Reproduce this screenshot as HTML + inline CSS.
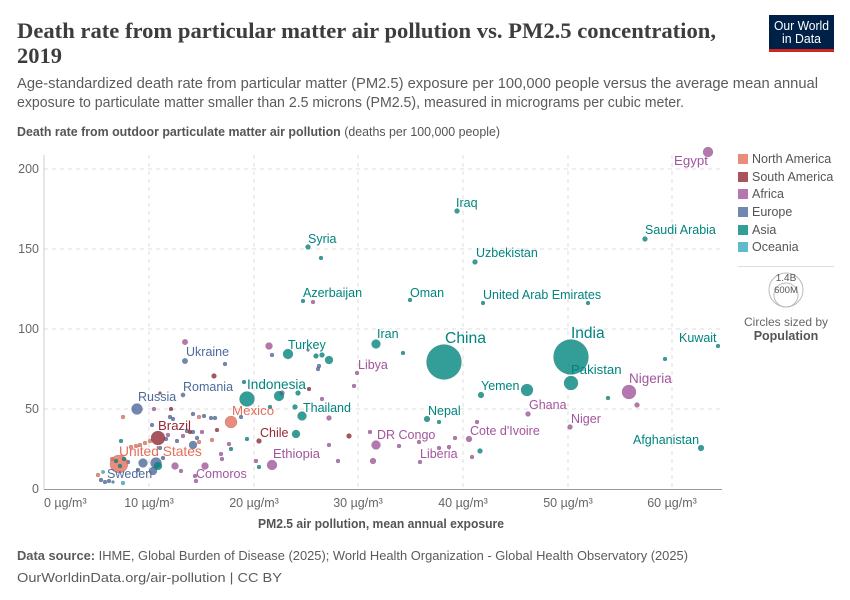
<!DOCTYPE html>
<html><head><meta charset="utf-8">
<style>
html,body{margin:0;padding:0;background:#fff;}
svg{display:block;font-family:"Liberation Sans",sans-serif;}
.g{stroke:#ddd;stroke-width:1;stroke-dasharray:4 4;}
.as{fill:#00847E;}
.af{fill:#A2559C;}
.na{fill:#E56E5A;}
.sa{fill:#932834;}
.eu{fill:#4C6A9C;}
.oc{fill:#38AABA;}
.d circle{fill-opacity:.8;stroke:#555;stroke-opacity:.35;stroke-width:.5;}
.l text{font-size:12.5px;}
.tas{fill:#00847E;}.taf{fill:#A2559C;}.tna{fill:#E56E5A;}.tsa{fill:#932834;}.teu{fill:#4C6A9C;}
.tick{font-size:12.5px;fill:#666;}
</style></head>
<body>
<svg width="850" height="600" viewBox="0 0 850 600" xmlns="http://www.w3.org/2000/svg">
<rect width="850" height="600" fill="#fff"/>
<!-- Header -->
<text x="17" y="38" font-family="'Liberation Serif',serif" font-size="22.5" font-weight="bold" fill="#3d3d3d" textLength="699" lengthAdjust="spacingAndGlyphs">Death rate from particular matter air pollution vs. PM2.5 concentration,</text>
<text x="17" y="63" font-family="'Liberation Serif',serif" font-size="22.5" font-weight="bold" fill="#3d3d3d">2019</text>
<text x="17" y="88" font-size="14.5" fill="#5b5b5b" textLength="801" lengthAdjust="spacingAndGlyphs">Age-standardized death rate from particular matter (PM2.5) exposure per 100,000 people versus the average mean annual</text>
<text x="17" y="107" font-size="14.5" fill="#5b5b5b" textLength="667" lengthAdjust="spacingAndGlyphs">exposure to particulate matter smaller than 2.5 microns (PM2.5), measured in micrograms per cubic meter.</text>
<!-- Logo -->
<rect x="769" y="15" width="65" height="37" fill="#002147"/>
<rect x="769" y="49" width="65" height="3" fill="#ce261e"/>
<text x="801.5" y="30" font-size="12.5" fill="#fff" text-anchor="middle" textLength="55" lengthAdjust="spacingAndGlyphs">Our World</text>
<text x="801.5" y="43" font-size="12.5" fill="#fff" text-anchor="middle" textLength="39" lengthAdjust="spacingAndGlyphs">in Data</text>
<!-- Y axis title -->
<text x="17" y="136" font-size="12.5" fill="#555" textLength="483" lengthAdjust="spacingAndGlyphs"><tspan font-weight="bold">Death rate from outdoor particulate matter air pollution</tspan> (deaths per 100,000 people)</text>

<!-- Grid -->
<g>
<line class="g" x1="44" y1="169" x2="721" y2="169"/>
<line class="g" x1="44" y1="249" x2="721" y2="249"/>
<line class="g" x1="44" y1="329" x2="721" y2="329"/>
<line class="g" x1="44" y1="409" x2="721" y2="409"/>
<line class="g" x1="149" y1="155" x2="149" y2="489"/>
<line class="g" x1="254" y1="155" x2="254" y2="489"/>
<line class="g" x1="358" y1="155" x2="358" y2="489"/>
<line class="g" x1="463" y1="155" x2="463" y2="489"/>
<line class="g" x1="568" y1="155" x2="568" y2="489"/>
<line class="g" x1="672" y1="155" x2="672" y2="489"/>
<line x1="44" y1="155" x2="44" y2="489" stroke="#ccc" stroke-width="1"/>
<line x1="44" y1="489.5" x2="722" y2="489.5" stroke="#999" stroke-width="1"/>
</g>
<!-- Y ticks -->
<g class="tick" text-anchor="end">
<text x="39" y="173">200</text>
<text x="39" y="253">150</text>
<text x="39" y="333">100</text>
<text x="39" y="413">50</text>
<text x="39" y="493">0</text>
</g>
<!-- X ticks -->
<g class="tick" text-anchor="middle">
<text x="44" y="507" text-anchor="start">0 µg/m³</text>
<text x="149" y="507">10 µg/m³</text>
<text x="254" y="507">20 µg/m³</text>
<text x="358" y="507">30 µg/m³</text>
<text x="463" y="507">40 µg/m³</text>
<text x="568" y="507">50 µg/m³</text>
<text x="672" y="507">60 µg/m³</text>
</g>
<text x="381" y="528" font-size="12.5" font-weight="bold" fill="#555" text-anchor="middle" textLength="246" lengthAdjust="spacingAndGlyphs">PM2.5 air pollution, mean annual exposure</text>

<!-- Dots -->
<g class="d">
<!-- Europe -->
<circle class="eu" cx="137" cy="409" r="5.5"/>
<circle class="eu" cx="185" cy="361" r="2.8"/>
<circle class="eu" cx="183" cy="395" r="2.2"/>
<circle class="eu" cx="225" cy="364" r="2"/>
<circle class="eu" cx="272" cy="355" r="2"/>
<circle class="eu" cx="308" cy="350" r="1.5"/>
<circle class="eu" cx="319" cy="366" r="2"/>
<circle class="eu" cx="318" cy="369" r="2"/>
<circle class="eu" cx="152" cy="425" r="2"/>
<circle class="eu" cx="170" cy="417" r="2"/>
<circle class="eu" cx="173" cy="419" r="2"/>
<circle class="eu" cx="193" cy="414" r="2"/>
<circle class="eu" cx="204" cy="416" r="2"/>
<circle class="eu" cx="211" cy="418" r="2"/>
<circle class="eu" cx="215" cy="418" r="2"/>
<circle class="eu" cx="241" cy="417" r="2"/>
<circle class="eu" cx="187" cy="431" r="2"/>
<circle class="eu" cx="193" cy="432" r="2"/>
<circle class="eu" cx="197" cy="438" r="2"/>
<circle class="eu" cx="193" cy="445" r="4"/>
<circle class="eu" cx="166" cy="439" r="2"/>
<circle class="eu" cx="143" cy="463" r="4.5"/>
<circle class="eu" cx="153" cy="471" r="4"/>
<circle class="eu" cx="163" cy="458" r="2"/>
<circle class="eu" cx="128" cy="462" r="2"/>
<circle class="eu" cx="138" cy="470" r="2"/>
<circle class="eu" cx="160" cy="448" r="2"/>
<circle class="eu" cx="101" cy="480" r="2"/>
<circle class="eu" cx="105" cy="482" r="2"/>
<circle class="eu" cx="109" cy="481" r="2"/>
<circle class="eu" cx="113" cy="482" r="1.5"/>
<circle class="eu" cx="177" cy="441" r="2"/>
<!-- North America -->
<circle class="na" cx="119" cy="464" r="9"/>
<circle class="na" cx="231" cy="422" r="6"/>
<circle class="na" cx="123" cy="417" r="2"/>
<circle class="na" cx="199" cy="417" r="2"/>
<circle class="na" cx="212" cy="440" r="2"/>
<circle class="na" cx="199" cy="442" r="2"/>
<circle class="na" cx="140" cy="445" r="2"/>
<circle class="na" cx="145" cy="443" r="2"/>
<circle class="na" cx="150" cy="441" r="2"/>
<circle class="na" cx="136" cy="446" r="2"/>
<circle class="na" cx="131" cy="447" r="2"/>
<circle class="na" cx="98" cy="475" r="2"/>
<circle class="na" cx="112" cy="459" r="2"/>
<!-- South America -->
<circle class="sa" cx="158" cy="438" r="7"/>
<circle class="sa" cx="259" cy="441" r="2.5"/>
<circle class="sa" cx="214" cy="376" r="2.5"/>
<circle class="sa" cx="309" cy="389" r="2"/>
<circle class="sa" cx="349" cy="436" r="2.5"/>
<circle class="sa" cx="171" cy="409" r="2"/>
<circle class="sa" cx="160" cy="393" r="1.5"/>
<circle class="sa" cx="217" cy="430" r="2"/>
<circle class="sa" cx="190" cy="432" r="2"/>
<!-- Africa -->
<circle class="af" cx="708" cy="152" r="5"/>
<circle class="af" cx="629" cy="392" r="7"/>
<circle class="af" cx="272" cy="465" r="5"/>
<circle class="af" cx="376" cy="445" r="4.5"/>
<circle class="af" cx="313" cy="302" r="2"/>
<circle class="af" cx="269" cy="346" r="3.5"/>
<circle class="af" cx="185" cy="342" r="2.8"/>
<circle class="af" cx="357" cy="373" r="2"/>
<circle class="af" cx="354" cy="386" r="2"/>
<circle class="af" cx="282" cy="393" r="2.5"/>
<circle class="af" cx="322" cy="399" r="2"/>
<circle class="af" cx="329" cy="418" r="2.5"/>
<circle class="af" cx="329" cy="445" r="2"/>
<circle class="af" cx="338" cy="461" r="2"/>
<circle class="af" cx="256" cy="461" r="2"/>
<circle class="af" cx="370" cy="432" r="2"/>
<circle class="af" cx="373" cy="461" r="3"/>
<circle class="af" cx="399" cy="446" r="2"/>
<circle class="af" cx="419" cy="442" r="2"/>
<circle class="af" cx="420" cy="462" r="2"/>
<circle class="af" cx="439" cy="448" r="2"/>
<circle class="af" cx="449" cy="447" r="2"/>
<circle class="af" cx="455" cy="438" r="2"/>
<circle class="af" cx="469" cy="439" r="3"/>
<circle class="af" cx="477" cy="422" r="2"/>
<circle class="af" cx="472" cy="457" r="2"/>
<circle class="af" cx="528" cy="414" r="2.5"/>
<circle class="af" cx="570" cy="427" r="2.5"/>
<circle class="af" cx="637" cy="405" r="2.5"/>
<circle class="af" cx="154" cy="409" r="2"/>
<circle class="af" cx="168" cy="435" r="2"/>
<circle class="af" cx="183" cy="436" r="2"/>
<circle class="af" cx="202" cy="432" r="2"/>
<circle class="af" cx="229" cy="444" r="2"/>
<circle class="af" cx="221" cy="454" r="2"/>
<circle class="af" cx="222" cy="459" r="2"/>
<circle class="af" cx="175" cy="466" r="3.5"/>
<circle class="af" cx="181" cy="471" r="2"/>
<circle class="af" cx="205" cy="466" r="3.5"/>
<circle class="af" cx="195" cy="476" r="2"/>
<circle class="af" cx="196" cy="481" r="2"/>
<!-- Asia -->
<circle class="as" cx="444" cy="362" r="17.5"/>
<circle class="as" cx="571" cy="357" r="17.5"/>
<circle class="as" cx="571" cy="383" r="7"/>
<circle class="as" cx="247" cy="399" r="7.5"/>
<circle class="as" cx="279" cy="396" r="5"/>
<circle class="as" cx="288" cy="354" r="5"/>
<circle class="as" cx="376" cy="344" r="4.5"/>
<circle class="as" cx="302" cy="416" r="4.5"/>
<circle class="as" cx="527" cy="390" r="6"/>
<circle class="as" cx="457" cy="211" r="2.5"/>
<circle class="as" cx="645" cy="239" r="2.5"/>
<circle class="as" cx="308" cy="247" r="2.5"/>
<circle class="as" cx="321" cy="258" r="2"/>
<circle class="as" cx="475" cy="262" r="2.5"/>
<circle class="as" cx="303" cy="301" r="2"/>
<circle class="as" cx="410" cy="300" r="2"/>
<circle class="as" cx="483" cy="303" r="2"/>
<circle class="as" cx="588" cy="303" r="2"/>
<circle class="as" cx="718" cy="346" r="2"/>
<circle class="as" cx="665" cy="359" r="2"/>
<circle class="as" cx="608" cy="398" r="2"/>
<circle class="as" cx="701" cy="448" r="3"/>
<circle class="as" cx="481" cy="395" r="3"/>
<circle class="as" cx="403" cy="353" r="2"/>
<circle class="as" cx="427" cy="419" r="3"/>
<circle class="as" cx="439" cy="422" r="2"/>
<circle class="as" cx="480" cy="451" r="2.5"/>
<circle class="as" cx="316" cy="356" r="2.5"/>
<circle class="as" cx="322" cy="355" r="2.5"/>
<circle class="as" cx="329" cy="360" r="4"/>
<circle class="as" cx="244" cy="382" r="2"/>
<circle class="as" cx="298" cy="393" r="2.5"/>
<circle class="as" cx="295" cy="407" r="2.5"/>
<circle class="as" cx="270" cy="407" r="2"/>
<circle class="as" cx="296" cy="434" r="4"/>
<circle class="as" cx="247" cy="439" r="2"/>
<circle class="as" cx="259" cy="467" r="2"/>
<circle class="as" cx="231" cy="449" r="2"/>
<circle class="as" cx="121" cy="441" r="2"/>
<circle class="as" cx="116" cy="461" r="2"/>
<circle class="as" cx="124" cy="459" r="2"/>
<circle class="as" cx="120" cy="466" r="2"/>
<circle class="eu" cx="156" cy="463" r="5.5"/>
<circle class="as" cx="158" cy="466" r="4"/>
<!-- Oceania -->
<circle class="oc" cx="123" cy="483" r="2"/>
<circle class="oc" cx="103" cy="472" r="1.8"/>
</g>

<!-- Labels -->
<g class="l">
<text class="taf" x="674" y="165" style="font-size:13.3px">Egypt</text>
<text class="tas" x="456" y="207">Iraq</text>
<text class="tas" x="645" y="234">Saudi Arabia</text>
<text class="tas" x="308" y="243">Syria</text>
<text class="tas" x="476" y="257">Uzbekistan</text>
<text class="tas" x="303" y="297">Azerbaijan</text>
<text class="tas" x="410" y="297">Oman</text>
<text class="tas" x="483" y="299">United Arab Emirates</text>
<text class="tas" x="377" y="338">Iran</text>
<text class="tas" x="445" y="343" style="font-size:15.7px">China</text>
<text class="tas" x="571" y="338" style="font-size:15.5px">India</text>
<text class="tas" x="679" y="342">Kuwait</text>
<text class="teu" x="186" y="356">Ukraine</text>
<text class="tas" x="288" y="349">Turkey</text>
<text class="taf" x="358" y="369">Libya</text>
<text class="tas" x="571" y="374" style="font-size:13.2px">Pakistan</text>
<text class="taf" x="629" y="383" style="font-size:13.5px">Nigeria</text>
<text class="teu" x="183" y="391">Romania</text>
<text class="tas" x="247" y="389" style="font-size:13.6px">Indonesia</text>
<text class="tas" x="481" y="390">Yemen</text>
<text class="teu" x="138" y="401">Russia</text>
<text class="tna" x="232" y="415" style="font-size:13.3px">Mexico</text>
<text class="taf" x="529" y="409">Ghana</text>
<text class="tas" x="303" y="412">Thailand</text>
<text class="tas" x="428" y="415">Nepal</text>
<text class="taf" x="571" y="423">Niger</text>
<text class="tsa" x="158" y="430" style="font-size:13.2px">Brazil</text>
<text class="tsa" x="260" y="437">Chile</text>
<text class="taf" x="377" y="439">DR Congo</text>
<text class="taf" x="470" y="435">Cote d'Ivoire</text>
<text class="tas" x="633" y="444">Afghanistan</text>
<text class="tna" x="119" y="456" style="font-size:13.8px">United States</text>
<text class="taf" x="273" y="458" style="font-size:13px">Ethiopia</text>
<text class="taf" x="420" y="458">Liberia</text>
<text class="taf" x="196" y="478">Comoros</text>
<text class="teu" x="107" y="478">Sweden</text>
</g>

<!-- Legend -->
<g font-size="12.5" fill="#555">
<rect x="738" y="154" width="10" height="10" fill="#E56E5A" fill-opacity=".8"/>
<text x="752" y="163">North America</text>
<rect x="738" y="172" width="10" height="10" fill="#932834" fill-opacity=".8"/>
<text x="752" y="181">South America</text>
<rect x="738" y="189" width="10" height="10" fill="#A2559C" fill-opacity=".8"/>
<text x="752" y="198">Africa</text>
<rect x="738" y="207" width="10" height="10" fill="#4C6A9C" fill-opacity=".8"/>
<text x="752" y="216">Europe</text>
<rect x="738" y="225" width="10" height="10" fill="#00847E" fill-opacity=".8"/>
<text x="752" y="234">Asia</text>
<rect x="738" y="242" width="10" height="10" fill="#38AABA" fill-opacity=".8"/>
<text x="752" y="251">Oceania</text>
</g>
<line x1="738" y1="266.5" x2="834" y2="266.5" stroke="#ddd" stroke-width="1"/>
<circle cx="786" cy="290" r="17" fill="none" stroke="#bbb" stroke-width="1"/>
<circle cx="786" cy="295" r="12" fill="none" stroke="#bbb" stroke-width="1"/>
<text x="786" y="281" font-size="10" fill="#555" text-anchor="middle">1.4B</text>
<text x="786" y="293" font-size="9.5" fill="#555" text-anchor="middle">600M</text>
<text x="786" y="326" font-size="12" fill="#666" text-anchor="middle">Circles sized by</text>
<text x="786" y="340" font-size="12.5" font-weight="bold" fill="#555" text-anchor="middle">Population</text>

<!-- Footer -->
<text x="17" y="560" font-size="12.5" fill="#5b5b5b" textLength="671" lengthAdjust="spacingAndGlyphs"><tspan font-weight="bold">Data source:</tspan> IHME, Global Burden of Disease (2025); World Health Organization - Global Health Observatory (2025)</text>
<text x="17" y="582" font-size="12.5" fill="#5b5b5b" textLength="265" lengthAdjust="spacingAndGlyphs">OurWorldinData.org/air-pollution | CC BY</text>
</svg>
</body></html>
